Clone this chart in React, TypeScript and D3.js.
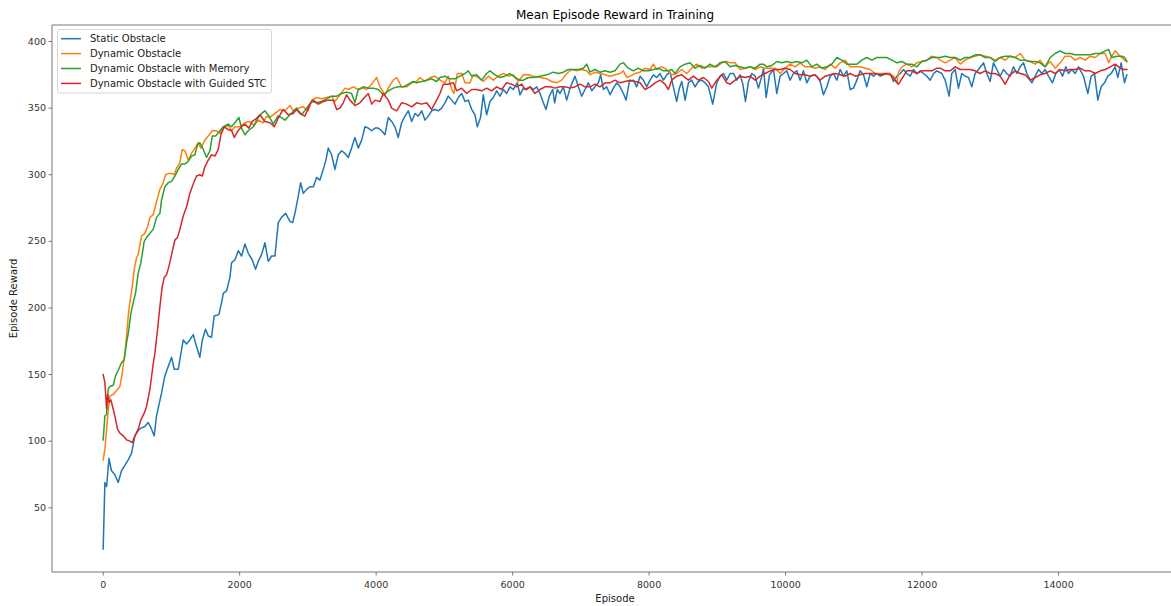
import React from 'react';
import * as d3 from 'd3';

// episode, mean reward
const staticObstacle: [number, number][] = [
  [0,19],[25,69],[50,66],[85,87],[120,78],[170,75],[220,69],[270,78],[320,82],[367,86],[416,91],[465,104],[513,108],[560,110],[610,111],[660,114],[709,109],[748,104],[782,119],[820,128],[855,136],[904,149],[953,156],[1002,163],[1041,154],[1100,154],[1173,176],[1222,173],[1270,176],[1320,180],[1368,171],[1417,163],[1453,176],[1500,184],[1540,179],[1588,178],[1627,194],[1696,195],[1735,204],[1760,211],[1810,213],[1857,223],[1882,234],[1930,236],[1979,243],[2028,239],[2077,248],[2126,241],[2185,236],[2233,229],[2272,235],[2321,240],[2370,249],[2419,235],[2468,239],[2517,239],[2566,264],[2614,268],[2673,271],[2737,265],[2776,264],[2810,271],[2859,284],[2893,294],[2932,286],[2981,289],[3030,291],[3080,291],[3127,298],[3176,296],[3225,304],[3264,311],[3298,320],[3347,315],[3396,304],[3445,315],[3494,318],[3543,316],[3592,313],[3640,320],[3689,328],[3738,320],[3787,326],[3836,336],[3885,335],[3934,333],[3983,335],[4031,335],[4080,333],[4129,330],[4178,343],[4227,340],[4275,336],[4324,328],[4373,339],[4422,344],[4471,348],[4520,340],[4569,346],[4618,344],[4667,348],[4715,341],[4764,344],[4813,348],[4862,349],[4911,348],[4960,350],[5008,354],[5057,359],[5106,356],[5155,353],[5204,358],[5253,361],[5302,355],[5351,356],[5400,349],[5448,345],[5482,336],[5530,343],[5570,360],[5619,345],[5668,355],[5717,358],[5766,363],[5815,359],[5864,364],[5912,361],[5961,366],[6010,364],[6069,369],[6108,360],[6157,365],[6206,364],[6255,366],
  [6304,364],[6352,366],[6401,361],[6450,354],[6489,349],[6538,359],[6587,364],[6616,354],[6655,364],[6694,361],[6743,366],[6792,356],[6841,365],[6914,374],[6963,366],[7012,359],[7061,364],[7110,369],[7159,363],[7207,366],[7256,369],[7290,375],[7330,364],[7378,366],[7427,360],[7476,365],[7525,369],[7574,366],[7623,361],[7662,356],[7711,370],[7769,371],[7818,366],[7867,374],[7916,371],[7964,366],[8013,371],[8062,375],[8111,373],[8160,376],[8209,371],[8258,375],[8307,377],[8355,366],[8404,355],[8443,365],[8478,370],[8527,356],[8576,369],[8624,371],[8673,366],[8722,370],[8771,371],[8820,369],[8869,366],[8932,353],[8991,369],[9040,374],[9089,376],[9138,371],[9186,376],
  [9236,376],[9285,371],[9334,375],[9373,368],[9412,355],[9456,370],[9505,376],[9554,374],[9602,365],[9651,374],[9676,380],[9715,358],[9764,375],[9822,379],[9871,361],[9920,374],[9969,376],[10018,378],[10066,371],[10115,376],[10164,378],[10213,371],[10262,378],[10311,369],[10360,374],[10408,375],[10457,374],[10506,370],[10555,360],[10604,366],[10653,374],[10702,376],[10750,371],[10799,379],[10848,374],[10897,378],[10946,364],[10995,365],[11044,371],[11092,378],[11141,375],[11190,366],[11239,376],[11288,374],[11337,376],[11386,374],[11434,375],[11483,376],[11532,376],[11581,370],[11630,374],[11679,376],[11728,379],[11776,376],[11825,374],[11874,379],[11923,376],[11972,378],[12021,376],[12070,374],[12119,371],[12168,376],[12216,378],
  [12289,376],[12338,371],[12396,359],[12435,376],[12484,379],[12533,365],[12582,376],[12631,374],[12680,373],[12728,366],[12777,376],[12826,379],[12900,384],[12948,376],[12997,370],[13046,384],[13095,379],[13144,374],[13193,379],[13241,376],[13290,374],[13339,381],[13388,376],[13437,381],[13486,384],[13535,376],[13608,369],[13657,374],[13706,379],[13755,376],[13803,379],[13852,374],[13911,369],[13960,376],[14009,379],[14058,374],[14106,381],[14145,376],[14194,379],[14243,376],[14292,381],[14365,374],[14429,361],[14478,374],[14526,376],[14575,356],[14624,366],[14673,369],[14722,374],[14771,376],[14829,381],[14868,373],[14917,384],[14966,369],[15000,375],
];

const dynamicObstacle: [number, number][] = [
  [0,86],[25,94],[50,109],[74,123],[98,134],[147,135],[196,138],[245,141],[279,151],[318,166],[343,179],[367,194],[391,204],[426,216],[455,229],[489,238],[513,240],[562,254],[611,256],[650,261],[685,268],[733,270],[782,280],[831,289],[880,294],[914,300],[963,301],[1002,301],[1041,300],[1076,305],[1124,309],[1158,319],[1197,318],[1246,311],[1295,316],[1344,320],[1393,324],[1432,320],[1490,326],[1540,329],[1598,333],[1662,333],[1711,331],[1760,335],[1833,337],[1882,333],[1930,336],[2003,336],[2077,339],[2150,340],[2211,337],[2272,341],[2345,339],[2394,344],[2443,343],[2517,346],[2590,349],[2663,348],[2737,352],[2786,348],[2859,350],[2932,351],[3005,348],[3054,356],[3127,358],[3200,357],[3274,358],[3347,359],[3396,355],[3470,360],[3543,365],[3592,364],[3665,366],[3738,364],[3812,365],[3860,364],[3934,368],[4007,373],[4056,366],[4129,360],[4178,365],[4251,371],[4300,373],[4373,366],[4447,366],[4520,369],[4593,370],[4642,373],[4715,370],[4789,373],[4862,374],[4935,371],[5008,369],[5057,374],[5106,364],[5140,361],[5190,376],[5253,376],[5302,369],[5375,369],[5424,375],[5497,373],[5570,370],[5644,374],[5717,371],[5790,374],[5864,376],[5937,374],[6010,375],[6084,370],[6157,375],[6230,375],
  [6304,374],[6401,373],[6499,372],[6572,370],[6645,369],[6719,371],[6792,376],[6865,379],[6939,378],[7012,379],[7085,378],[7134,375],[7207,377],[7281,376],[7354,375],[7427,374],[7500,375],[7574,376],[7623,378],[7672,373],[7720,374],[7794,376],[7867,377],[7940,380],[8013,379],[8062,383],[8111,379],[8185,381],[8258,379],[8331,375],[8404,376],[8478,379],[8551,376],[8624,380],[8697,383],[8771,380],[8844,381],[8918,381],[8991,381],[9064,384],[9138,385],[9186,384],
  [9260,384],[9334,379],[9407,380],[9480,381],[9554,379],[9627,381],[9700,380],[9773,380],[9847,380],[9920,376],[9993,380],[10066,383],[10140,381],[10213,384],[10286,381],[10360,381],[10433,380],[10506,381],[10580,379],[10653,383],[10726,380],[10799,384],[10873,386],[10946,381],[11019,381],[11092,381],[11166,380],[11239,379],[11312,376],[11386,376],[11459,376],[11532,376],[11581,374],[11630,369],[11655,377],[11703,381],[11776,383],[11850,381],[11923,384],[11996,385],[12070,386],[12143,389],[12216,388],
  [12265,386],[12338,384],[12411,386],[12484,388],[12558,383],[12631,386],[12704,388],[12777,389],[12851,390],[12924,389],[12997,388],[13070,386],[13144,388],[13217,386],[13290,389],[13364,388],[13437,391],[13510,386],[13584,385],[13657,383],[13730,386],[13803,381],[13877,385],[13950,380],[14023,384],[14096,389],[14170,389],[14243,386],[14316,388],[14390,386],[14463,389],[14536,388],[14610,391],[14683,391],[14734,384],[14780,389],[14829,393],[14903,389],[14966,386],[15000,385],
];

const dynamicMemory: [number, number][] = [
  [0,101],[25,119],[50,120],[74,139],[98,141],[147,142],[181,149],[220,153],[269,159],[308,161],[343,174],[367,181],[406,196],[440,204],[474,211],[513,226],[553,234],[601,250],[636,253],[685,256],[733,259],[782,268],[831,271],[855,281],[904,291],[953,294],[1002,295],[1051,299],[1100,304],[1148,308],[1197,308],[1246,310],[1295,314],[1344,315],[1384,323],[1417,324],[1466,319],[1515,313],[1564,318],[1598,329],[1647,329],[1711,333],[1760,336],[1833,338],[1882,336],[1930,339],[1989,343],[2028,335],[2077,330],[2126,333],[2199,336],[2272,343],[2321,346],[2370,348],[2430,344],[2492,338],[2560,344],[2610,343],[2663,341],[2737,345],[2834,350],[2908,345],[2981,350],[3054,355],[3127,354],[3200,355],[3274,357],[3347,359],[3421,359],[3494,361],[3567,362],[3640,361],[3689,354],[3738,364],[3812,366],[3885,365],[3958,365],[4031,364],[4105,360],[4178,363],[4251,365],[4324,366],[4398,366],[4471,368],[4544,370],[4593,369],[4667,370],[4740,371],[4813,372],[4886,370],[4935,373],[5008,374],[5082,372],[5155,372],[5228,374],[5302,376],[5351,378],[5400,374],[5473,375],[5546,371],[5619,376],[5668,378],[5742,375],[5815,373],[5888,374],[5961,376],[6035,373],[6108,371],[6157,371],[6230,373],
  [6304,373],[6401,374],[6499,375],[6596,377],[6670,376],[6743,377],[6816,379],[6890,379],[6963,379],[7036,380],[7085,383],[7134,377],[7207,379],[7281,377],[7354,378],[7427,377],[7500,378],[7574,383],[7623,384],[7696,380],[7769,378],[7842,380],[7916,378],[7989,378],[8062,379],[8136,380],[8209,378],[8282,378],[8331,379],[8380,376],[8453,381],[8527,383],[8600,384],[8673,380],[8746,382],[8820,380],[8893,383],[8966,381],[9040,384],[9113,385],[9186,381],
  [9260,382],[9334,381],[9407,380],[9480,381],[9554,380],[9627,383],[9676,383],[9725,381],[9798,382],[9871,385],[9944,384],[10018,385],[10091,384],[10164,385],[10237,384],[10311,386],[10384,381],[10457,383],[10530,380],[10604,381],[10677,383],[10750,388],[10824,386],[10897,383],[10970,383],[11044,383],[11117,386],[11190,388],[11264,386],[11337,388],[11410,388],[11483,388],[11557,386],[11630,384],[11703,385],[11776,383],[11850,383],[11923,381],[11996,385],[12070,386],[12143,388],[12216,388],
  [12265,388],[12338,389],[12411,388],[12484,388],[12558,386],[12631,388],[12704,388],[12777,390],[12851,390],[12924,388],[12997,388],[13070,385],[13144,388],[13217,389],[13290,389],[13364,388],[13437,386],[13510,386],[13584,385],[13657,385],[13730,384],[13803,381],[13877,388],[13950,391],[14023,393],[14096,391],[14170,391],[14243,390],[14316,390],[14390,390],[14463,390],[14536,391],[14610,391],[14683,393],[14734,394],[14780,388],[14854,389],[14927,389],[14970,388],[15000,385],
];

const dynamicGuided: [number, number][] = [
  [0,150],[25,144],[50,124],[64,135],[88,129],[113,131],[147,124],[171,119],[210,109],[245,106],[294,104],[343,101],[391,100],[426,99],[465,104],[513,109],[553,116],[601,121],[636,126],[685,139],[733,158],[758,166],[797,184],[831,201],[865,216],[895,223],[929,225],[963,231],[1002,240],[1051,251],[1090,253],[1124,259],[1173,269],[1222,276],[1270,286],[1319,293],[1368,299],[1417,300],[1453,299],[1490,306],[1540,311],[1588,315],[1637,314],[1686,319],[1725,330],[1774,336],[1828,334],[1882,333],[1921,328],[1975,333],[2028,336],[2077,338],[2135,335],[2184,340],[2240,342],[2297,345],[2370,340],[2443,339],[2507,336],[2570,343],[2639,349],[2710,345],[2785,346],[2834,349],[2883,346],[2956,344],[3030,353],[3079,356],[3152,353],[3225,355],[3298,356],[3372,356],[3421,349],[3470,350],[3518,354],[3567,360],[3616,356],[3689,352],[3763,354],[3812,357],[3885,361],[3934,353],[3983,356],[4056,355],[4105,361],[4178,356],[4227,350],[4300,348],[4373,354],[4447,353],[4520,351],[4593,354],[4667,353],[4740,354],[4813,349],[4886,356],[4935,361],[4984,368],[5057,368],[5131,369],[5180,363],[5253,365],[5326,361],[5400,364],[5473,364],[5546,363],[5619,365],[5693,363],[5766,366],[5839,364],[5912,369],[5986,368],[6059,366],[6132,368],
  [6181,364],[6255,366],[6328,361],[6401,364],[6475,366],[6548,366],[6621,365],[6694,366],[6767,366],[6841,365],[6914,366],[6987,368],[7061,366],[7134,366],[7207,368],[7281,366],[7354,369],[7427,369],[7500,371],[7574,369],[7647,370],[7720,371],[7794,370],[7867,369],[7940,364],[8013,366],[8087,369],[8160,371],[8233,368],[8282,364],[8331,371],[8404,374],[8478,375],[8502,374],[8575,371],[8649,374],[8722,371],[8795,373],[8869,370],[8918,365],[8991,371],[9064,375],[9138,369],[9186,368],
  [9260,371],[9334,374],[9407,373],[9480,374],[9554,371],[9627,374],[9700,376],[9773,378],[9847,379],[9920,379],[9993,380],[10066,379],[10140,376],[10213,375],[10286,375],[10360,374],[10433,375],[10506,371],[10580,374],[10653,375],[10726,376],[10799,375],[10873,374],[10946,376],[11019,374],[11092,375],[11166,376],[11239,376],[11312,376],[11386,375],[11459,376],[11532,375],[11605,371],[11654,368],[11728,374],[11776,378],[11850,378],[11923,376],[11996,378],[12070,378],[12143,378],[12216,380],
  [12265,380],[12338,378],[12411,378],[12484,381],[12558,379],[12631,379],[12704,379],[12777,378],[12851,376],[12924,378],[12997,376],[13070,376],[13144,374],[13217,368],[13290,375],[13364,378],[13437,376],[13510,375],[13584,371],[13657,373],[13730,375],[13803,376],[13877,378],[13950,376],[14023,379],[14096,378],[14170,379],[14243,379],[14316,380],[14390,378],[14463,378],[14536,376],[14610,378],[14683,379],[14756,381],[14829,383],[14903,380],[14966,379],[15000,379],
];

const seriesNames = [
  'Static Obstacle',
  'Dynamic Obstacle',
  'Dynamic Obstacle with Memory',
  'Dynamic Obstacle with Guided STC',
];
const seriesColors = ['#1f77b4', '#ff7f0e', '#2ca02c', '#d62728'];
const xTicks = [0, 2000, 4000, 6000, 8000, 10000, 12000, 14000];
const yTicks = [50, 100, 150, 200, 250, 300, 350, 400];

const W = 1171;
const H = 606;
const left = 52;
const right = 1178; // right spine falls outside the picture
const top = 25;
const bottom = 572;
const font = 'DejaVu Sans, sans-serif';

export default function App() {
  const x = d3.scaleLinear().domain([-750, 15750]).range([left, right]);
  const y = d3.scaleLinear().domain([1.8, 412.4]).range([bottom, top]);

  const line = d3.line<[number, number]>()
    .x(d => x(d[0]))
    .y(d => y(d[1]));

  const allSeries = [staticObstacle, dynamicObstacle, dynamicMemory, dynamicGuided];

  return (
    <div style={{ position: 'absolute', left: 0, top: 0 }}>
      <svg width={W} height={H} style={{ display: 'block', background: '#fff' }} fontFamily={font}>
        <defs>
          <clipPath id="plotClip">
            <rect x={left} y={top} width={right - left} height={bottom - top} />
          </clipPath>
        </defs>

        <text x={(left + right) / 2} y={19} textAnchor="middle" fontSize={12} fill="#000">
          Mean Episode Reward in Training
        </text>

        {/* series, drawn in legend order so red ends on top */}
        <g clipPath="url(#plotClip)">
          {allSeries.map((s, i) => (
            <path key={i} d={line(s) ?? ''} fill="none" stroke={seriesColors[i]}
              strokeWidth={1.5} strokeLinejoin="round" strokeLinecap="square" />
          ))}
        </g>

        {/* spines */}
        <g stroke="#555" strokeWidth={0.8} fill="none">
          <line x1={left} x2={left} y1={top} y2={bottom} />
          <line x1={left} x2={right} y1={bottom} y2={bottom} />
          <line x1={left} x2={right} y1={top} y2={top} />
          <line x1={right} x2={right} y1={top} y2={bottom} />
        </g>

        {/* y axis */}
        {yTicks.map(t => (
          <g key={t} transform={`translate(${left},${y(t)})`}>
            <line x1={-3.5} x2={0} stroke="#555" strokeWidth={0.8} />
            <text x={-6} dy="0.32em" textAnchor="end" fontSize={9.5} fill="#333">{t}</text>
          </g>
        ))}
        <text transform={`translate(17,${(top + bottom) / 2}) rotate(-90)`} textAnchor="middle"
          fontSize={10} fill="#222">Episode Reward</text>

        {/* x axis */}
        {xTicks.map(t => (
          <g key={t} transform={`translate(${x(t)},${bottom})`}>
            <line y1={0} y2={3.5} stroke="#555" strokeWidth={0.8} />
            <text y={16} textAnchor="middle" fontSize={9.5} fill="#333">{t}</text>
          </g>
        ))}
        <text x={(left + right) / 2} y={602} textAnchor="middle" fontSize={10} fill="#222">Episode</text>

        {/* legend */}
        <g>
          <rect x={57.5} y={29.5} width={214} height={63.5} rx={2.5} fill="#fff" fillOpacity={0.8}
            stroke="#ccc" strokeWidth={0.8} />
          {seriesNames.map((name, i) => (
            <g key={name} transform={`translate(61,${38.7 + i * 14.9})`}>
              <line x1={0} x2={20} stroke={seriesColors[i]} strokeWidth={1.5} />
              <text x={29} dy="0.35em" fontSize={10} fill="#222">{name}</text>
            </g>
          ))}
        </g>
      </svg>
    </div>
  );
}
